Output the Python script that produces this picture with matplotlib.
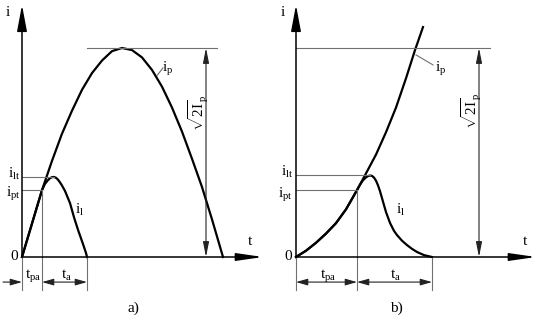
import matplotlib
matplotlib.use('Agg')
import matplotlib.pyplot as plt

plt.rcParams['font.family'] = ['Liberation Serif', 'DejaVu Serif']
plt.rcParams['mathtext.fontset'] = 'custom'
plt.rcParams['mathtext.rm'] = 'Liberation Serif'
plt.rcParams['mathtext.it'] = 'Liberation Serif:italic'

# ---------------- data (time in arbitrary units, current normalised to sqrt(2)*Ip = 1) -------------
# panel a) : prospective current i_p (half wave) and let-through current i_l
ip_a_t = [0, 10, 20, 30, 40, 50, 60, 70, 80, 90, 100, 110, 120, 130, 140, 150, 160, 170, 180, 190, 201]
ip_a_i = [0, 0.16, 0.32, 0.46, 0.59, 0.70, 0.80, 0.88, 0.94, 0.985, 1.0, 0.99, 0.955, 0.895, 0.815,
          0.715, 0.60, 0.47, 0.335, 0.18, 0]
il_a_t = [0, 10, 20, 23, 26, 28, 30, 32, 34, 36, 38, 40, 43, 48, 52, 56, 61, 64, 65]
il_a_i = [0, 0.16, 0.32, 0.35, 0.368, 0.377, 0.382, 0.383, 0.379, 0.37, 0.357, 0.342, 0.316, 0.258,
          0.19, 0.13, 0.062, 0.019, 0]
tpa_a, ta_end_a, ipt_a, ilt_a, tpk_a = 20, 65, 0.32, 0.383, 32

# panel b) : rising prospective current and let-through current
ip_b_t = [0, 10, 20, 30, 40, 50, 61, 70, 80, 90, 100, 110, 119, 123, 127]
ip_b_i = [0, 0.03, 0.068, 0.112, 0.162, 0.228, 0.32, 0.40, 0.49, 0.597, 0.715, 0.855, 0.99, 1.045, 1.10]
il_b_t = [0, 10, 20, 30, 40, 50, 61, 64, 67, 70, 72, 74, 76, 78, 80, 82, 84, 87, 90, 94, 98, 101,
          106, 111, 116, 121, 128, 136]
il_b_i = [0, 0.03, 0.068, 0.112, 0.162, 0.228, 0.32, 0.346, 0.367, 0.381, 0.387, 0.39, 0.388, 0.38,
          0.365, 0.343, 0.315, 0.265, 0.215, 0.163, 0.125, 0.105, 0.078, 0.057, 0.039, 0.024, 0.009, 0]
tpa_b, ta_end_b, ipt_b, ilt_b, tpk_b = 61, 136, 0.32, 0.39, 74

# ---------------- figure ----------------
fig = plt.figure(figsize=(5.38, 3.24), dpi=100)
fig.patch.set_facecolor('white')
axA = fig.add_axes([0, 0, 270 / 538, 1])
axB = fig.add_axes([270 / 538, 0, 268 / 538, 1])
axA.set_xlim(-22, 248)
axB.set_xlim(-26, 242)
for ax in (axA, axB):
    ax.set_ylim(-67 / 209, 257 / 209)
    ax.axis('off')

GRAY = '#707070'
DIM = '#222222'


def arrow(ax, p_from, p_to, hl, hw, lw, color, both=False):
    style = ('<|-|>' if both else '-|>') + f',head_length={hl},head_width={hw}'
    ax.annotate('', xy=p_to, xytext=p_from,
                arrowprops=dict(arrowstyle=style, lw=lw, color=color,
                                shrinkA=0, shrinkB=0, mutation_scale=10))


def axes_arrows(ax, t_end):
    arrow(ax, (0, 0), (0, 1.206), 1.6, 0.3, 1.1, 'black')
    arrow(ax, (0, 0), (t_end, 0), 1.6, 0.23, 1.1, 'black')


FS = 11
DIM_Y = -0.12
EXT_Y = -0.158

# ---------- panel a ----------
ax = axA
axes_arrows(ax, 241)
ax.plot(ip_a_t, ip_a_i, color='black', lw=1.6, solid_joinstyle='round')
ax.plot(il_a_t, il_a_i, color='black', lw=1.6, solid_joinstyle='round')
ax.plot([0, tpk_a], [ilt_a, ilt_a], color=GRAY, lw=0.8)
ax.plot([0, tpa_a], [ipt_a, ipt_a], color=GRAY, lw=0.8)
ax.plot([tpa_a, tpa_a], [ipt_a, EXT_Y], color=GRAY, lw=0.8)
ax.plot([ta_end_a, ta_end_a], [0, EXT_Y], color=GRAY, lw=0.8)
ax.plot([0, 0], [0, EXT_Y], color=GRAY, lw=0.8)
ax.plot([65, 195], [1, 1], color=GRAY, lw=0.8)
arrow(ax, (184, 0), (184, 1), 0.9, 0.18, 0.8, DIM, both=True)
arrow(ax, (-19, DIM_Y), (0, DIM_Y), 0.7, 0.2, 0.8, DIM)
arrow(ax, (tpa_a, DIM_Y), (ta_end_a, DIM_Y), 0.7, 0.2, 0.8, DIM, both=True)
ax.plot([135, 141], [0.868, 0.905], color=GRAY, lw=0.8)

ax.text(-14, 1.17, 'i', fontsize=FS, ha='center', va='center')
ax.text(228, 0.075, 't', fontsize=FS, ha='center', va='center')
ax.text(-8, 0.0, '0', fontsize=FS, ha='center', va='center')
ax.text(-2, ilt_a + 0.015, r'$\mathrm{i_{lt}}$', fontsize=FS, ha='right', va='center')
ax.text(-1, ipt_a - 0.02, r'$\mathrm{i_{pt}}$', fontsize=FS, ha='right', va='center')
ax.text(11, -0.09, r'$\mathrm{t_{pa}}$', fontsize=FS, ha='center', va='center')
ax.text(44, -0.09, r'$\mathrm{t_{a}}$', fontsize=FS, ha='center', va='center')
ax.text(53, 0.225, r'$\mathrm{i_{l}}$', fontsize=FS, ha='left', va='center')
ax.text(140, 0.9, r'$\mathrm{i_{p}}$', fontsize=FS, ha='left', va='center')
ax.text(176, 0.69, r'$\sqrt{2\mathrm{I}}_{\mathrm{p}}$', fontsize=FS, ha='center', va='center',
        rotation=90)
ax.text(111, -0.244, 'a)', fontsize=FS, ha='center', va='center')

# ---------- panel b ----------
ax = axB
axes_arrows(ax, 240)
ax.plot(ip_b_t, ip_b_i, color='black', lw=1.6, solid_joinstyle='round')
ax.plot(il_b_t, il_b_i, color='black', lw=1.6, solid_joinstyle='round')
ax.plot([0, tpk_b], [ilt_b, ilt_b], color=GRAY, lw=0.8)
ax.plot([0, tpa_b], [ipt_b, ipt_b], color=GRAY, lw=0.8)
ax.plot([tpa_b, tpa_b], [ipt_b, EXT_Y], color=GRAY, lw=0.8)
ax.plot([ta_end_b, ta_end_b], [0, EXT_Y], color=GRAY, lw=0.8)
ax.plot([0, 0], [0, EXT_Y], color=GRAY, lw=0.8)
ax.plot([0, 194], [1, 1], color=GRAY, lw=0.8)
arrow(ax, (183, 0), (183, 1), 0.9, 0.18, 0.8, DIM, both=True)
arrow(ax, (0, DIM_Y), (tpa_b, DIM_Y), 0.7, 0.2, 0.8, DIM, both=True)
arrow(ax, (tpa_b, DIM_Y), (ta_end_b, DIM_Y), 0.7, 0.2, 0.8, DIM, both=True)
ax.plot([120, 137], [0.967, 0.919], color=GRAY, lw=0.8)

ax.text(-13, 1.17, 'i', fontsize=FS, ha='center', va='center')
ax.text(229, 0.075, 't', fontsize=FS, ha='center', va='center')
ax.text(-8, 0.0, '0', fontsize=FS, ha='center', va='center')
ax.text(-3, ilt_b + 0.015, r'$\mathrm{i_{lt}}$', fontsize=FS, ha='right', va='center')
ax.text(-3, ipt_b - 0.025, r'$\mathrm{i_{pt}}$', fontsize=FS, ha='right', va='center')
ax.text(32, -0.09, r'$\mathrm{t_{pa}}$', fontsize=FS, ha='center', va='center')
ax.text(99, -0.09, r'$\mathrm{t_{a}}$', fontsize=FS, ha='center', va='center')
ax.text(100, 0.225, r'$\mathrm{i_{l}}$', fontsize=FS, ha='left', va='center')
ax.text(139, 0.9, r'$\mathrm{i_{p}}$', fontsize=FS, ha='left', va='center')
ax.text(175, 0.70, r'$\sqrt{2\mathrm{I}}_{\mathrm{p}}$', fontsize=FS, ha='center', va='center',
        rotation=90)
ax.text(100, -0.244, 'b)', fontsize=FS, ha='center', va='center')

fig.savefig('out.png', dpi=100, facecolor='white')
